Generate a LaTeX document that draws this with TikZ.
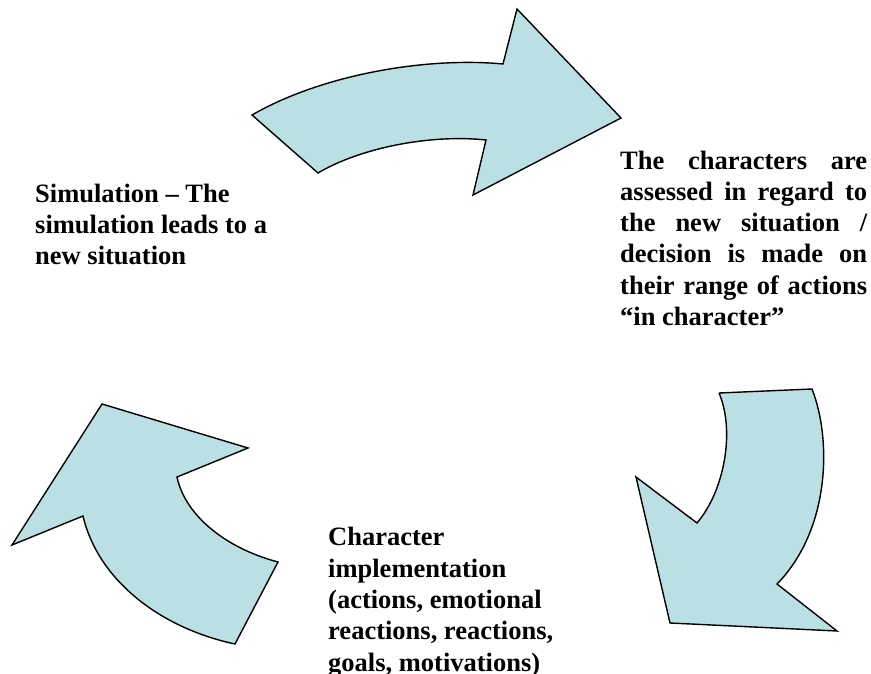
\documentclass[tikz,border=0pt]{standalone}
\usepackage{fontspec}
\setmainfont{Liberation Serif}
\definecolor{arrowfill}{RGB}{187,224,227}
\begin{document}
\begin{tikzpicture}[x=1pt,y=-1pt,
  bentarrow/.style={draw=black,fill=arrowfill,line width=1.4pt,line join=miter},
  % anchor on the baseline of the last line of each caption
  caption/.style={inner sep=0pt,anchor=base west,align=left,
    font=\bfseries\fontsize{26.5}{31.3}\selectfont}]
\useasboundingbox (0,0) rectangle (871,674);

% upper arrow, pointing right
\draw[bentarrow] (252,115) .. controls (325,73) and (430,57) .. (503,64)
  -- (517,9) -- (621,118) -- (473,195) -- (486,140)
  .. controls (430,134) and (360,148) .. (318,173) -- cycle;

% right arrow, pointing down
\draw[bentarrow] (719,393) -- (812,389)
  .. controls (832,440) and (830,530) .. (777,584)
  -- (837,631) -- (670,623) -- (636,477) -- (697,523)
  .. controls (725,490) and (735,430) .. (719,393);

% left arrow, pointing up
\draw[bentarrow] (102,404) -- (248,448) -- (177,477)
  .. controls (185,515) and (225,548) .. (278,562)
  -- (235,644) .. controls (160,628) and (98,580) .. (83,516)
  -- (12,545) -- cycle;

\node[caption] (sim) at (35,265)
  {Simulation -- The\\simulation leads to a\\new situation};

\node[caption] (assess) at (620,325.5)
  {\makebox[247pt][s]{The characters are}\\
   \makebox[247pt][s]{assessed in regard to}\\
   \makebox[247pt][s]{the new situation /}\\
   \makebox[247pt][s]{decision is made on}\\
   \makebox[247pt][s]{their range of actions}\\
   ``in character''};

\node[caption] (impl) at (328,671)
  {Character\\implementation\\(actions, emotional\\reactions, reactions,\\goals, motivations)};
\end{tikzpicture}
\end{document}
